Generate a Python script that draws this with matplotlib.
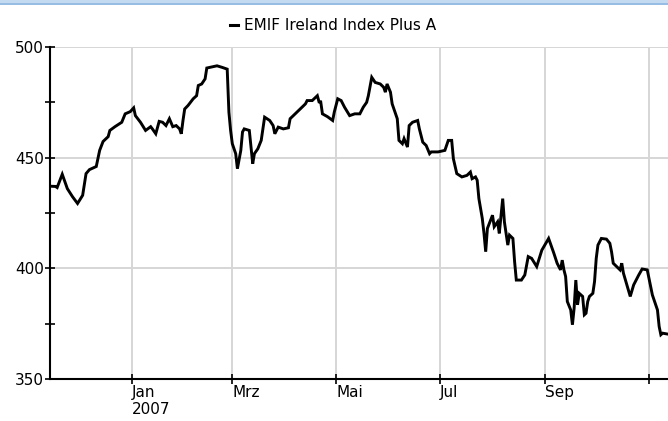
import matplotlib

matplotlib.use("Agg")
import matplotlib.dates as mdates
import matplotlib.pyplot as plt
import pandas as pd
from matplotlib.lines import Line2D
from matplotlib.patches import Rectangle

# days counted from 2007-01-01
day_offsets = [
    -48, -45, -44, -41, -38, -35, -32, -29, -27, -25, -21, -19, -17, -14, -13, -10,
    -6, -4, -1, 1, 2, 5, 8, 11, 12, 14, 16, 18, 20, 22, 24, 26, 28, 29, 30, 31,
    33, 36, 38, 39, 41, 43, 44, 47, 50, 53, 56, 57, 58, 59, 61, 62, 64, 65, 66, 69,
    71, 72, 74, 76, 78, 81, 83, 84, 86, 89, 92, 93, 96, 100, 102, 103, 106, 109, 110, 111,
    112, 115, 118, 119, 121, 123, 125, 128, 131, 134, 136, 138, 139, 141, 143, 146, 148, 149, 150, 152,
    153, 156, 157, 159, 160, 162, 163, 165, 168, 169, 171, 173, 175, 176, 180, 184, 186, 188, 189, 191,
    194, 197, 199, 200, 202, 203, 204, 206, 207, 208, 209, 212, 213, 215, 216, 218, 219, 221, 222, 224,
    225, 226, 229, 231, 233, 235, 238, 241, 245, 248, 250, 252, 253, 254, 255, 256, 258, 259, 260, 261,
    262, 263, 265, 266, 267, 268, 269, 271, 272, 273, 274, 276, 279, 281, 282, 283, 285, 287, 288, 289,
    291, 293, 295, 298, 300, 303, 304, 306, 308, 309, 310, 311, 312, 315,
]
index_values = [
    437.1, 437.0, 436.5, 442.5, 436.0, 432.4, 429.3, 433.0, 442.8, 444.6, 446.0, 453.3, 457.3, 459.5, 462.3, 464.0,
    466.0, 469.8, 470.8, 472.5, 469.0, 466.0, 462.3, 464.0, 463.0, 460.8, 466.4, 466.0, 464.5, 467.6, 464.0, 464.5, 463.0, 460.8, 466.8, 472.0,
    473.6, 476.6, 478.0, 482.6, 483.3, 485.6, 490.5, 491.0, 491.5, 490.8, 490.0, 470.6, 462.3, 456.3, 451.8, 445.0, 453.3, 461.6, 463.0, 462.3,
    447.3, 451.8, 454.0, 457.8, 468.3, 466.8, 464.5, 460.8, 463.8, 463.0, 463.5, 467.6, 469.8, 472.8, 474.3, 475.8, 475.8, 478.0, 475.2, 475.2,
    469.8, 468.5, 466.8, 470.7, 476.6, 475.8, 472.8, 469.0, 469.8, 469.8, 472.8, 475.0, 478.0, 486.3, 484.0, 483.3, 481.8, 479.6, 483.3, 479.6,
    474.3, 467.6, 457.8, 456.3, 458.6, 454.8, 464.5, 466.0, 466.8, 463.0, 457.0, 455.5, 451.8, 452.6, 452.6, 453.3, 457.8, 457.8, 449.5, 442.8,
    441.3, 442.0, 443.5, 440.5, 441.3, 439.8, 431.5, 422.5, 415.8, 407.5, 418.0, 424.0, 418.8, 421.0, 415.8, 431.5, 421.0, 410.5, 415.0, 413.5,
    403.0, 394.7, 394.7, 397.0, 405.3, 404.5, 400.8, 408.2, 413.5, 407.0, 402.3, 399.3, 403.7, 399.3, 396.3, 385.0, 381.2, 374.5, 382.0, 394.7,
    383.5, 388.7, 387.3, 379.0, 379.7, 385.0, 387.3, 388.7, 394.0, 404.5, 410.5, 413.5, 413.2, 411.3, 407.5, 402.3, 400.8, 399.3, 402.3, 397.8,
    392.5, 387.3, 392.5, 397.0, 399.7, 399.3, 395.5, 388.0, 383.5, 381.2, 373.7, 370.0, 370.7, 370.3,
]

tick_months = ["2007-01-01", "2007-03-01", "2007-05-01", "2007-07-01", "2007-09-01", "2007-11-01"]
tick_labels = ["Jan\n2007", "Mrz", "Mai", "Jul", "Sep", ""]
y_major = [350, 400, 450, 500]
y_minor = [375, 425, 475]
series_name = "EMIF Ireland Index Plus A"

plt.rcParams["font.family"] = ["DejaVu Sans"]

start = pd.Timestamp("2007-01-01")
dates = start + pd.to_timedelta(day_offsets, unit="D")
base = mdates.date2num(start)

fig = plt.figure(figsize=(6.68, 4.21), dpi=100)
ax = fig.add_axes([50 / 668, 1 - 379 / 421, 618 / 668, 332 / 421])

ax.plot(dates, index_values, color="black", linewidth=2.1, solid_joinstyle="miter")

ax.set_xlim(base - 48.2, base + 315.2)
ax.set_ylim(350, 500)

ax.set_xticks([mdates.date2num(pd.Timestamp(m)) for m in tick_months])
ax.set_xticklabels(tick_labels, ha="left", fontsize=11, linespacing=1.15)
ax.set_yticks(y_major)
ax.set_yticks(y_minor, minor=True)
ax.tick_params(axis="y", which="major", direction="inout", length=7, width=1.2, labelsize=11, pad=1)
ax.tick_params(axis="y", which="minor", direction="inout", length=7, width=1.2)
ax.tick_params(axis="x", which="major", direction="inout", length=7, width=1.2, pad=1)
for lbl in ax.get_xticklabels():
    lbl.set_x(lbl.get_position()[0])

ax.grid(True, which="major", color="#d6d6d6", linewidth=1.4)
ax.set_axisbelow(True)
for side in ("top", "right"):
    ax.spines[side].set_visible(False)
for side in ("left", "bottom"):
    ax.spines[side].set_linewidth(1.5)
    ax.spines[side].set_color("black")

# legend line on top
fig.add_artist(Line2D([230 / 668, 238 / 668], [1 - 25 / 421] * 2, color="black", linewidth=2.2))
fig.text(244 / 668, 1 - 25 / 421, series_name, fontsize=11, va="center", ha="left")

# blue border strip at the top
fig.add_artist(Rectangle((0, 1 - 5 / 421), 1, 5 / 421, color="#c4daf0", transform=fig.transFigure, lw=0))
fig.add_artist(Line2D([0, 1], [1 - 4 / 421] * 2, color="#90b8e2", linewidth=1.2))

fig.savefig("out.png", dpi=100)
